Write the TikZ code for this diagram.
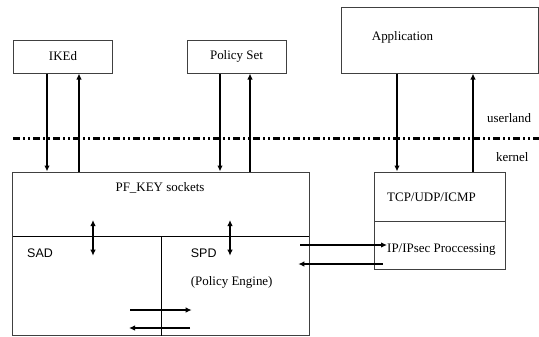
\documentclass[tikz,border=0pt]{standalone}
\usepackage{fontspec}
\setmainfont{Liberation Serif}
\setsansfont{Liberation Sans}
\usetikzlibrary{arrows.meta}
\tikzset{
  box/.style={draw=black!75, line width=1bp, inner sep=0pt},
  lbl/.style={font=\fontsize{13}{15}\selectfont, inner sep=0pt},
  slbl/.style={font=\sffamily\fontsize{12.5}{15}\selectfont, inner sep=0pt},
  arr/.style={line width=1.8bp, -{Latex[length=6bp,width=5.5bp]}},
  dbl/.style={line width=1.8bp, {Latex[length=6bp,width=5.5bp]}-{Latex[length=6bp,width=5.5bp]}},
  divider/.style={line width=1bp, black},
  boundary/.style={line width=2.8bp, dash pattern=on 7bp off 3bp on 2bp off 3bp on 2bp off 3bp}
}
\begin{document}
\begin{tikzpicture}[x=1bp,y=-1bp]
\useasboundingbox (0,0) rectangle (539,336);

% userland processes
\node[box, minimum width=99bp, minimum height=33bp] (ike) at (63,56.5) {};
\node[lbl] at (ike.center) {IKEd};
\node[box, minimum width=99bp, minimum height=33bp] (pol) at (236.5,56.5) {};
\node[lbl] at (pol.center) {Policy Set};
\node[box, minimum width=197bp, minimum height=66bp] (app) at (440,40) {};
\node[lbl, anchor=west] at (371.7,37) {Application};

% userland / kernel boundary
\coordinate (bl) at (13,138.3);
\coordinate (br) at (539,138.3);
\draw[boundary] (bl) -- (br);
\node[lbl, anchor=west] (ul) at (487,118) {userland};
\node[lbl, anchor=west] (kn) at (496,157) {kernel};

% kernel: PF_KEY / SAD / SPD block
\node[box, minimum width=296bp, minimum height=163.5bp] (pf) at (161,253.75) {};
\node[lbl] (pfk) at (160,188) {PF\_KEY sockets};
\coordinate (hl) at (13,236.7);
\coordinate (hr) at (309,236.7);
\draw[divider] (hl) -- (hr);
\coordinate (vt) at (161.7,236.7);
\coordinate (vb) at (161.7,335.5);
\draw[divider] (vt) -- (vb);
\node[slbl, anchor=west] (sad) at (27,253) {SAD};
\node[slbl, anchor=west] (spd) at (190.7,253) {SPD};
\node[lbl, anchor=west] (pe) at (190.7,282) {(Policy Engine)};

% kernel: protocol stack
\node[box, minimum width=131.4bp, minimum height=97.7bp] (tcp) at (440,220.85) {};
\coordinate (tl) at (374.3,221);
\coordinate (tr) at (505.7,221);
\draw[box] (tl) -- (tr);
\node[lbl, anchor=west] (tcpl) at (387,197) {TCP/UDP/ICMP};
\node[lbl, anchor=west] (ipl) at (387,250) {IP/IPsec Proccessing};

% userland <-> kernel messages
\draw[arr] ([xshift=-16bp]ike.south) -- ([xshift=-16bp]ike.south |- pf.north);
\draw[arr] ([xshift=16bp]ike.south |- pf.north) -- ([xshift=16bp]ike.south);
\draw[arr] ([xshift=-16.5bp]pol.south) -- ([xshift=-16.5bp]pol.south |- pf.north);
\draw[arr] ([xshift=13.5bp]pol.south |- pf.north) -- ([xshift=13.5bp]pol.south);
\draw[arr] ([xshift=-43bp]app.south) -- ([xshift=-43bp]app.south |- tcp.north);
\draw[arr] ([xshift=33bp]app.south |- tcp.north) -- ([xshift=33bp]app.south);

% PF_KEY <-> databases
\coordinate (d1a) at (93,220);
\coordinate (d1b) at (93,255.7);
\draw[dbl] (d1a) -- (d1b);
\coordinate (d2a) at (230,220);
\coordinate (d2b) at (230,255.7);
\draw[dbl] (d2a) -- (d2b);

% SAD <-> SPD
\coordinate (s1) at (130,310);
\coordinate (s2) at (191.7,310);
\draw[arr] (s1) -- (s2);
\coordinate (s3) at (190,328);
\coordinate (s4) at (129,328);
\draw[arr] (s3) -- (s4);

% SPD <-> IP processing
\coordinate (p1) at (300,245);
\draw[arr] (p1) -- (ipl.west |- p1);
\coordinate (p2) at (382.7,264);
\coordinate (p3) at (298.3,264);
\draw[arr] (p2) -- (p3);
\end{tikzpicture}
\end{document}
